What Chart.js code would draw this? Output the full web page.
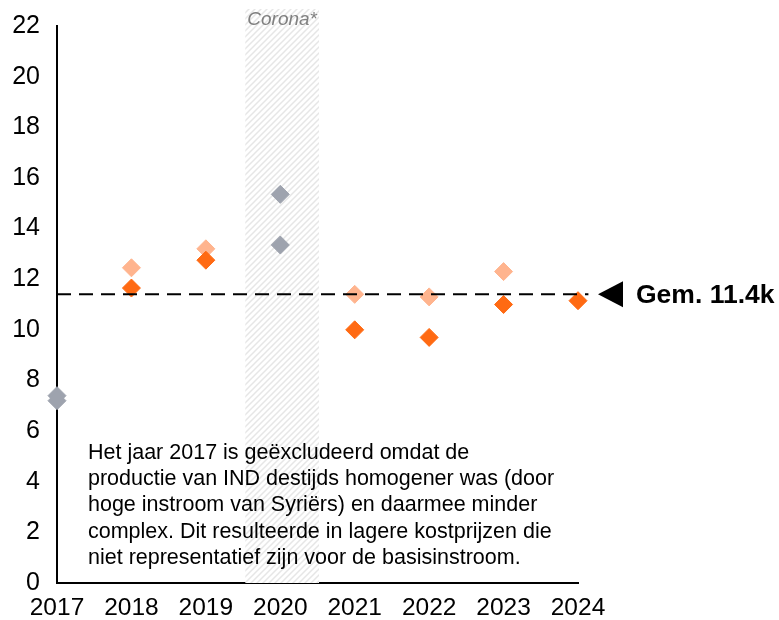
<!DOCTYPE html>
<html>
<head>
<meta charset="utf-8">
<script src="https://cdn.jsdelivr.net/npm/chart.js@4.4.0/dist/chart.umd.min.js"></script>
<style>
  body { margin: 0; background: #ffffff; }
  #wrap { width: 779px; height: 620px; }
</style>
</head>
<body>
<div id="wrap"><canvas id="costChart" width="779" height="620"></canvas></div>
<script>
// kostprijs per jaar (x1000)
const years = [2017, 2018, 2019, 2020, 2021, 2022, 2023, 2024];

const greyYears = [2017, 2017, 2020, 2020];
const greyValues = [7.4, 7.2, 15.35, 13.35];

const lightYears = [2018, 2019, 2021, 2022, 2023];
const lightValues = [12.45, 13.2, 11.4, 11.3, 12.3];

const darkYears = [2018, 2019, 2021, 2022, 2023, 2024];
const darkValues = [11.65, 12.75, 10.0, 9.7, 11.0, 11.15];

const average = 11.4;
const averageLabel = "Gem. 11.4k";
const coronaBand = [2019.53, 2020.52];
const coronaLabel = "Corona*";

const yTicks = [0, 2, 4, 6, 8, 10, 12, 14, 16, 18, 20, 22];

const noteLines = [
    "Het jaar 2017 is geëxcludeerd omdat de",
    "productie van IND destijds homogener was (door",
    "hoge instroom van Syriërs) en daarmee minder",
    "complex. Dit resulteerde in lagere kostprijzen die",
    "niet representatief zijn voor de basisinstroom."
];

const FONT = "'Liberation Sans', Arial, sans-serif";

function toPoints(xs, ys) {
    return xs.map((x, i) => ({ x: x, y: ys[i] }));
}

// diagonal hatch for the corona period
function makeHatch() {
    const c = document.createElement("canvas");
    c.width = 6;
    c.height = 6;
    const g = c.getContext("2d");
    g.fillStyle = "#ffffff";
    g.fillRect(0, 0, 6, 6);
    g.strokeStyle = "#e6e6e6";
    g.lineWidth = 1.5;
    g.beginPath();
    g.moveTo(-1, 7);
    g.lineTo(7, -1);
    g.moveTo(-1, 1);
    g.lineTo(1, -1);
    g.moveTo(5, 7);
    g.lineTo(7, 5);
    g.stroke();
    return g.createPattern(c, "repeat");
}

const bandPlugin = {
    id: "coronaBand",
    beforeDatasetsDraw(chart) {
        const { ctx, chartArea, scales } = chart;
        const x0 = scales.x.getPixelForValue(coronaBand[0]);
        const x1 = scales.x.getPixelForValue(coronaBand[1]);
        const top = chartArea.top - 17;
        ctx.save();
        ctx.fillStyle = makeHatch();
        ctx.fillRect(x0, top, x1 - x0, chartArea.bottom - top);
        ctx.fillStyle = "#808080";
        ctx.font = "italic 19px " + FONT;
        ctx.textAlign = "center";
        ctx.textBaseline = "alphabetic";
        ctx.fillText(coronaLabel, (x0 + x1) / 2, top + 16);
        ctx.restore();
    }
};

const notesPlugin = {
    id: "notes",
    afterDraw(chart) {
        const { ctx, chartArea, scales } = chart;
        const yAvg = scales.y.getPixelForValue(average);
        ctx.save();

        // arrow + average label
        const tipX = chartArea.right + 20;
        ctx.fillStyle = "#000000";
        ctx.beginPath();
        ctx.moveTo(tipX, yAvg);
        ctx.lineTo(tipX + 25, yAvg - 13);
        ctx.lineTo(tipX + 25, yAvg + 13);
        ctx.closePath();
        ctx.fill();

        ctx.font = "bold 26.5px " + FONT;
        ctx.textAlign = "left";
        ctx.textBaseline = "middle";
        ctx.fillText(averageLabel, tipX + 38, yAvg + 1);

        // explanatory note
        ctx.font = "21.5px " + FONT;
        ctx.textBaseline = "middle";
        noteLines.forEach((line, i) => {
            ctx.fillText(line, 88, 453 + i * 26.2);
        });
        ctx.restore();
    }
};

const diamond = {
    pointStyle: "rectRot",
    pointRadius: 9,
    pointHoverRadius: 9,
    pointBorderWidth: 1,
    showLine: false,
    clip: false
};

new Chart(document.getElementById("costChart"), {
    type: "scatter",
    data: {
        datasets: [
            {
                label: "Gemiddelde",
                type: "line",
                data: [{ x: 2017, y: average }, { x: 2024.14, y: average }],
                borderColor: "#000000",
                borderWidth: 2,
                borderDash: [14, 8],
                pointRadius: 0,
                fill: false,
                clip: false,
                order: 0
            },
            Object.assign({
                label: "Donker",
                data: toPoints(darkYears, darkValues),
                backgroundColor: "#ff6a13",
                borderColor: "#ff6a13",
                order: 1
            }, diamond),
            Object.assign({
                label: "Licht",
                data: toPoints(lightYears, lightValues),
                backgroundColor: "#ffb48e",
                borderColor: "#ffb48e",
                order: 2
            }, diamond),
            Object.assign({
                label: "Grijs",
                data: toPoints(greyYears, greyValues),
                backgroundColor: "#9ea3ae",
                borderColor: "#9ea3ae",
                order: 3
            }, diamond)
        ]
    },
    options: {
        responsive: false,
        animation: false,
        layout: {
            padding: { left: 0, right: 201, top: 26, bottom: 0 }
        },
        plugins: {
            legend: { display: false },
            tooltip: { enabled: false }
        },
        scales: {
            x: {
                type: "linear",
                min: years[0],
                max: years[years.length - 1],
                afterFit(scale) {
                    scale.height = 37;
                    scale.paddingLeft = 0;
                    scale.paddingRight = 0;
                },
                afterBuildTicks(scale) {
                    scale.ticks = years.map((v) => ({ value: v }));
                },
                grid: { display: false, drawTicks: false },
                border: { display: true, color: "#000000", width: 2 },
                ticks: {
                    color: "#000000",
                    padding: 11,
                    maxRotation: 0,
                    font: { family: FONT, size: 24.5 },
                    callback: (v) => String(v)
                }
            },
            y: {
                min: 0,
                max: 22,
                afterFit(scale) {
                    scale.width = 57;
                    scale.paddingTop = 0;
                    scale.paddingBottom = 0;
                },
                afterBuildTicks(scale) {
                    scale.ticks = yTicks.map((v) => ({ value: v }));
                },
                grid: { display: false, drawTicks: false },
                border: { display: true, color: "#000000", width: 2 },
                ticks: {
                    color: "#000000",
                    padding: 17,
                    font: { family: FONT, size: 25 }
                }
            }
        }
    },
    plugins: [bandPlugin, notesPlugin]
});
</script>
</body>
</html>
